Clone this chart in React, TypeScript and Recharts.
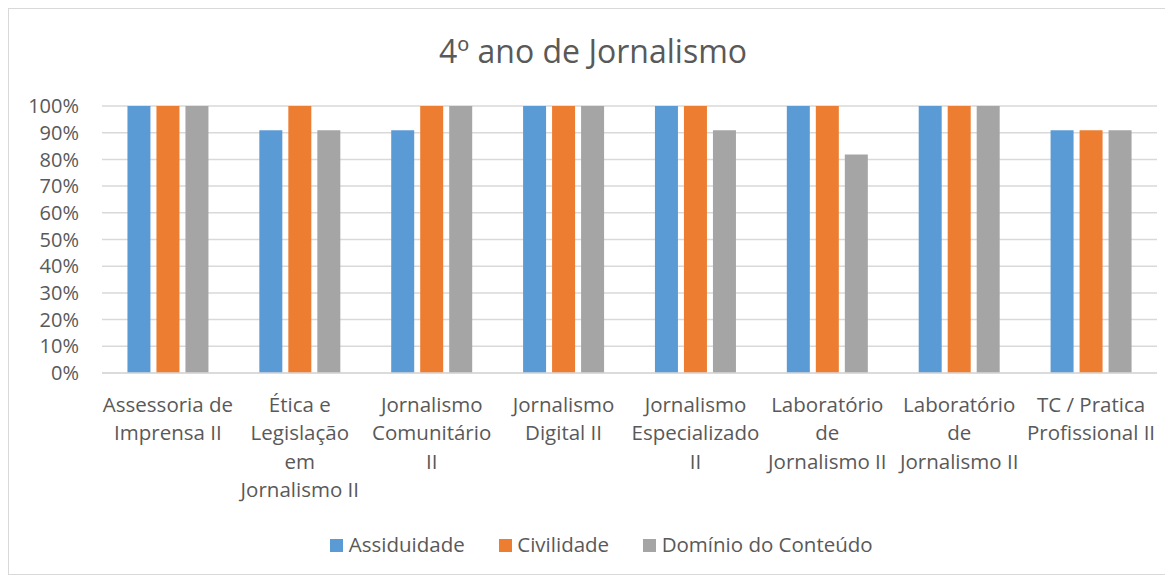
import React from 'react';
import { BarChart, Bar, XAxis, YAxis, CartesianGrid } from 'recharts';

const categoryLines: string[][] = [
  ['Assessoria de', 'Imprensa II'],
  ['Ética e', 'Legislação', 'em', 'Jornalismo II'],
  ['Jornalismo', 'Comunitário', 'II'],
  ['Jornalismo', 'Digital II'],
  ['Jornalismo', 'Especializado', 'II'],
  ['Laboratório', 'de', 'Jornalismo II'],
  ['Laboratório', 'de', 'Jornalismo II'],
  ['TC / Pratica', 'Profissional II'],
];
const categories: string[] = categoryLines.map((l) => l.join(' '));

const assiduidade: number[] = [1.0, 0.909, 0.909, 1.0, 1.0, 1.0, 1.0, 0.909];
const civilidade: number[] = [1.0, 1.0, 1.0, 1.0, 1.0, 1.0, 1.0, 0.909];
const dominio: number[] = [1.0, 0.909, 1.0, 1.0, 0.909, 0.818, 1.0, 0.909];

const yTicks: number[] = [0, 0.1, 0.2, 0.3, 0.4, 0.5, 0.6, 0.7, 0.8, 0.9, 1.0];

const seriesNames: string[] = ['Assiduidade', 'Civilidade', 'Domínio do Conteúdo'];
const seriesKeys: string[] = ['a', 'c', 'd'];
const seriesColors: string[] = ['#5B9BD5', '#ED7D31', '#A5A5A5'];

const data = categories.map((name, i) => ({
  name,
  a: assiduidade[i],
  c: civilidade[i],
  d: dominio[i],
}));

const FONT = '"Open Sans", Lato, sans-serif';
const TEXT = '#595959';

const XTick = (props: any) => {
  const { x, y, payload } = props;
  const lines = categoryLines[payload.index] ?? [String(payload.value)];
  return (
    <text x={x} y={y} textAnchor="middle" fill={TEXT} fontFamily={FONT} fontSize={20.5}>
      {lines.map((ln, i) => (
        <tspan key={i} x={x} dy={i === 0 ? 39 : 28.3}>
          {ln}
        </tspan>
      ))}
    </text>
  );
};

export default function App() {
  return (
    <div
      style={{
        position: 'relative',
        width: 1163,
        height: 567,
        border: '1px solid #D9D9D9',
        boxSizing: 'border-box',
        background: '#fff',
        fontFamily: FONT,
      }}
    >
      <div
        style={{
          position: 'absolute',
          top: 0,
          left: 3,
          width: '100%',
          height: 66,
          display: 'flex',
          justifyContent: 'center',
        }}
      >
        <svg width={600} height={66} style={{ overflow: 'visible' }}>
          <text x={300} y={54} textAnchor="middle" fill={TEXT} fontFamily={FONT} fontSize={32}>
            4º ano de Jornalismo
          </text>
        </svg>
      </div>
      <BarChart
        width={1161}
        height={565}
        data={data}
        margin={{ top: 97, right: 13, left: 0, bottom: 0 }}
        barCategoryGap="19.3%"
        barGap={6}
      >
        <CartesianGrid vertical={false} stroke="#D9D9D9" strokeWidth={1.5} />
        <XAxis
          dataKey="name"
          height={201}
          interval={0}
          tickLine={false}
          tickSize={0}
          tickMargin={0}
          axisLine={{ stroke: '#D9D9D9', strokeWidth: 1.5 }}
          tick={<XTick />}
        />
        <YAxis
          width={93}
          domain={[0, 1]}
          ticks={yTicks}
          interval={0}
          axisLine={false}
          tickLine={false}
          tickSize={0}
          tickMargin={23}
          tickFormatter={(v: number) => `${Math.round(v * 100)}%`}
          tick={{ fill: TEXT, fontFamily: FONT, fontSize: 20 }}
        />
        {seriesKeys.map((k, i) => (
          <Bar key={k} dataKey={k} name={seriesNames[i]} fill={seriesColors[i]} isAnimationActive={false} />
        ))}
      </BarChart>
      <div
        style={{
          position: 'absolute',
          top: 521,
          left: 12,
          width: '100%',
          display: 'flex',
          justifyContent: 'center',
          gap: 34,
          fontSize: 20.5,
          color: TEXT,
          lineHeight: '28px',
        }}
      >
        {seriesNames.map((n, i) => (
          <div key={n} style={{ display: 'flex', alignItems: 'flex-start' }}>
            <span
              style={{
                display: 'inline-block',
                width: 13,
                height: 13,
                marginTop: 8.5,
                background: seriesColors[i],
                marginRight: 5.5,
              }}
            />
            <span>{n}</span>
          </div>
        ))}
      </div>
    </div>
  );
}
